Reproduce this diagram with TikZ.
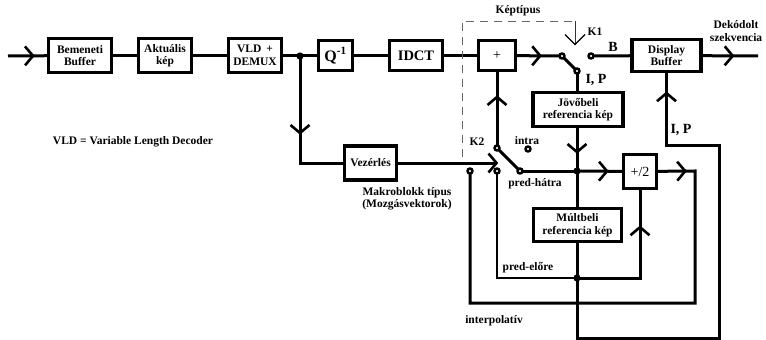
\documentclass[tikz,border=0pt]{standalone}
\usepackage{fontspec}
\setmainfont{Liberation Serif}
\usetikzlibrary{decorations.markings}

\newcommand\dgfont{\fontsize{11.5}{12.5}\selectfont\bfseries}

\tikzset{
  blk/.style={draw, line width=3.4pt, inner sep=0pt, align=center, font=\dgfont},
  ln/.style={line width=3pt},
  thinln/.style={line width=2.3pt},
  % open "V" arrow head placed along a line
  chev/.style={postaction={decorate, decoration={markings,
      mark=at position #1 with {\draw[line width=2.6pt, solid, line join=miter]
        (-8pt,9.5pt) -- (0pt,0pt) -- (-8pt,-9.5pt);}}}},
  chevthin/.style={postaction={decorate, decoration={markings,
      mark=at position #1 with {\draw[line width=1.2pt, solid, black]
        (-10pt,10pt) -- (0pt,0pt) -- (-10pt,-10pt);}}}},
  dsh/.style={line width=0.9pt, black!60, dash pattern=on 8pt off 6pt},
  tip/.style={line width=1pt, black!80},
  contact/.style={draw, fill=white, line width=2.4pt},
  lab/.style={font=\dgfont, inner sep=0pt, align=center},
  biglab/.style={font=\fontsize{14}{15}\selectfont\bfseries, inner sep=0pt},
}

\begin{document}
\begin{tikzpicture}[x=1pt, y=-1pt]
\useasboundingbox (0,0) rectangle (766,340);

% ---- main decoding chain ----
\coordinate (in) at (8,56);
\node[blk, minimum width=63pt, minimum height=34pt] (bb) at (80,55.5) {Bemeneti\\ Buffer};
\node[blk, minimum width=53pt, minimum height=34pt] (ak) at (165,55.5) {Aktuális\\ kép};
\node[blk, minimum width=53pt, minimum height=34pt] (vld) at (255,55.5) {VLD \,+\\ DEMUX};
\coordinate (jdot) at (300,56);
\node[blk, minimum width=34pt, minimum height=30pt, font=\fontsize{16}{17}\selectfont\bfseries] (q) at (335.5,55.5) {Q\textsuperscript{-1}};
\node[blk, minimum width=53pt, minimum height=30pt, font=\fontsize{14.5}{15}\selectfont\bfseries] (idct) at (416,55.5) {IDCT};
\node[blk, minimum width=37pt, minimum height=30pt, font=\fontsize{14}{15}\selectfont] (plus) at (497,55.5) {+};
\node[blk, minimum width=69pt, minimum height=32pt] (disp) at (666.5,55.5) {Display\\ Buffer};
\coordinate (out) at (758,56);

% ---- reference frames and averaging ----
\node[blk, minimum width=90pt, minimum height=34pt] (jov) at (578,109.5) {Jövőbeli\\ referencia kép};
\node[blk, minimum width=88pt, minimum height=33pt] (mult) at (577.5,225) {Múltbeli\\ referencia kép};
\node[blk, minimum width=33pt, minimum height=34pt, font=\fontsize{14}{15}\selectfont] (div) at (640,171.5) {+/2};
\node[blk, minimum width=52pt, minimum height=34pt] (vez) at (370.5,163) {Vezérlés};

% ---- switch contacts and junctions ----
\coordinate (p1) at (562,56);
\coordinate (c1ip) at (577,71);
\coordinate (c1b) at (591,56);
\coordinate (p2) at (497,148);
\coordinate (cin) at (528,149);
\coordinate (ci) at (470,171);
\coordinate (cf) at (497,171);
\coordinate (ch) at (520,171);
\coordinate (jh) at (577,171);
\coordinate (jf) at (577,278);
\coordinate (ir) at (695,171);
\coordinate (ib) at (695,303);
\coordinate (fbA) at (577,338);
\coordinate (fbB) at (719,338);
\coordinate (fbC) at (719,145);
\coordinate (ctl) at (497,163);
\coordinate (dA) at (462,157);
\coordinate (dB) at (575,21);
\coordinate (dC) at (575,45);

% ---- connectors ----
\draw[ln, chev=25pt] (in) -- (bb);
\draw[ln] (bb) -- (ak);
\draw[ln] (ak) -- (vld);
\draw[ln] (vld) -- (q);
\draw[ln] (q) -- (idct);
\draw[ln] (idct) -- (plus);
\draw[ln, chev=23pt] (plus) -- (p1);
\draw[ln] (p1) -- (c1ip);
\draw[ln] (c1b) -- (disp);
\draw[ln, chev=30pt] (disp) -- (out);

\draw[ln] (c1ip) -- (c1ip |- jov.north);
\draw[ln, chev=-19pt] (jh |- jov.south) -- (jh);
\draw[ln, chev=30pt] (jh) -- (div);
\draw[ln] (jh) -- (jh |- mult.north);
\draw[ln] (jh |- mult.south) -- (jf);
\draw[ln, chev=-37pt] (jf) -| (div);
\draw[thinln] (cf) |- (jf);
\draw[ln, chev=27pt] (div) -- (ir) -- (ib) -| (ci);
\draw[ln] (ch) -- (jh);
\draw[ln] (p2) -- (ch);
\draw[ln, chev=51pt] (p2) -- (plus);
\draw[ln, chev=-20pt] (jf) -- (fbA) -- (fbB) -- (fbC) -| (disp);
\draw[ln, chev=77pt] (jdot) |- (vez);
\draw[ln, chev=-0.5pt] (vez) -- (ctl);

% picture-type control (dashed, ending in a solid arrow onto K1)
\draw[dsh] (dA) |- (dB);
\draw[tip, chevthin=-0.5pt] (dB) -- (dC);

% ---- dots ----
\foreach \d in {jdot, jh, jf} \fill (\d) circle (3.6pt);
\foreach \c in {p1, c1ip, c1b, p2, cin, ci, cf, ch} \draw[contact] (\c) circle (2.5pt);

% ---- labels ----
\node[lab] at (518,11) {Képtípus};
\node[lab] at (595,32) {K1};
\node[biglab] at (613,47) {B};
\node[biglab] at (596,80) {I, P};
\node[biglab] at (681,130) {I, P};
\node[lab] at (736,31) {Dekódolt\\ szekvencia};
\node[lab] at (133,142) {VLD = Variable Length Decoder};
\node[lab] at (477,142) {K2};
\node[lab] at (527,141) {intra};
\node[lab] at (535,184) {pred-hátra};
\node[lab] at (528,268) {pred-előre};
\node[lab] at (494,321) {interpolatív};
\node[lab] at (407,199) {Makroblokk típus\\ (Mozgásvektorok)};
\end{tikzpicture}
\end{document}
